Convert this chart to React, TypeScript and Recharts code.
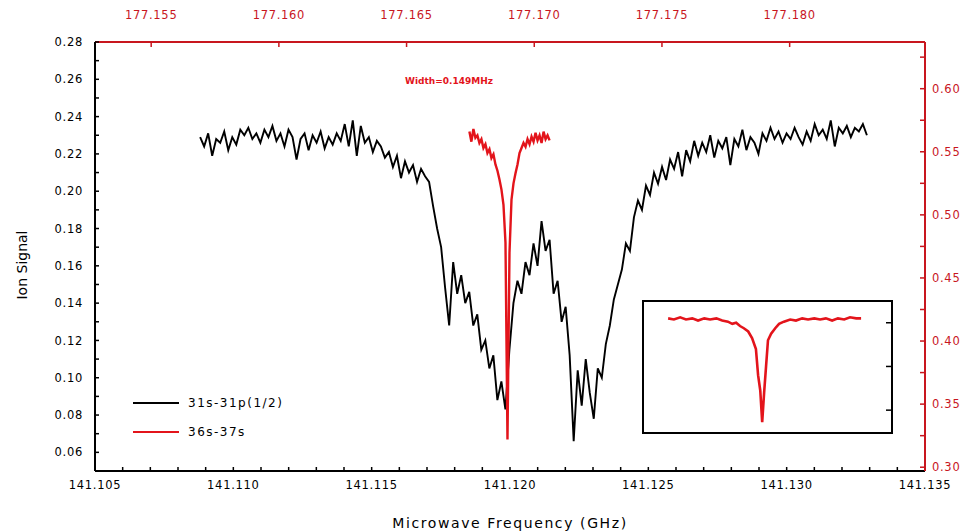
import { LineChart, Line, XAxis, YAxis } from 'recharts'

// 31s-31p(1/2) scan, evenly sampled across the bottom frequency axis (GHz)
const BLACK_START = 141.1088
const BLACK_END = 141.1329
const blackSignal = [
  0.229, 0.224, 0.231, 0.219, 0.228, 0.226, 0.232, 0.222, 0.229, 0.225,
  0.233, 0.230, 0.234, 0.228, 0.231, 0.226, 0.233, 0.229, 0.235, 0.227,
  0.231, 0.224, 0.233, 0.229, 0.217, 0.228, 0.231, 0.222, 0.230, 0.226,
  0.232, 0.223, 0.229, 0.225, 0.231, 0.227, 0.236, 0.224, 0.238, 0.219,
  0.235, 0.226, 0.229, 0.221, 0.227,
  0.224, 0.218, 0.221, 0.213, 0.219, 0.207, 0.216, 0.210, 0.214, 0.205,
  0.212, 0.208,
  0.205, 0.192, 0.180, 0.170, 0.148, 0.128, 0.162, 0.145, 0.155, 0.140,
  0.146, 0.128, 0.134, 0.115, 0.120, 0.105, 0.112, 0.088,
  0.098, 0.083, 0.115,
  0.140, 0.152, 0.145, 0.162, 0.155, 0.172, 0.160, 0.184, 0.168, 0.174,
  0.145, 0.152, 0.130, 0.138, 0.112, 0.066, 0.104, 0.085, 0.110, 0.092,
  0.078, 0.105,
  0.100, 0.118, 0.128, 0.142, 0.150, 0.158, 0.172, 0.168, 0.186, 0.195,
  0.190, 0.203, 0.198, 0.210, 0.204, 0.213, 0.206, 0.217, 0.212, 0.221,
  0.208, 0.222, 0.216, 0.227, 0.219,
  0.226, 0.221, 0.230, 0.218, 0.227, 0.223, 0.229, 0.214, 0.228, 0.224,
  0.233, 0.222, 0.229, 0.226, 0.220, 0.231, 0.227, 0.234, 0.228, 0.232,
  0.226, 0.231, 0.228, 0.234, 0.229, 0.225, 0.232, 0.227, 0.236, 0.230,
  0.233, 0.228, 0.238, 0.224, 0.234, 0.231, 0.235, 0.229, 0.234, 0.232,
  0.236, 0.230
]

// 36s-37s scan, evenly sampled across the top frequency axis (GHz)
const RED_START = 177.16746
const RED_END = 177.1706
const redSignal = [
  0.566, 0.558, 0.568, 0.561, 0.563, 0.557, 0.560, 0.553, 0.556, 0.549,
  0.552, 0.545, 0.548, 0.540, 0.535, 0.528, 0.520, 0.508, 0.478, 0.322,
  0.470, 0.512, 0.525, 0.533, 0.540, 0.549, 0.553, 0.557, 0.554, 0.560,
  0.556, 0.562, 0.558, 0.565, 0.559, 0.563, 0.557, 0.566, 0.560, 0.563,
  0.559
]

// inset: close-up of the 36s-37s line (MHz offset, arb. units)
const insetFreq = [
  -2.0, -1.88, -1.75, -1.63, -1.5, -1.38, -1.25, -1.13, -1.0, -0.88,
  -0.76, -0.67, -0.59, -0.51, -0.43, -0.34, -0.26, -0.18, -0.135, -0.09,
  -0.05, -0.01, 0.03, 0.07, 0.135, 0.22, 0.3, 0.4, 0.53, 0.65,
  0.78, 0.9, 1.03, 1.15, 1.27, 1.4, 1.52, 1.65, 1.77, 1.9, 2.0
]
const insetSignal = [
  1.04, 1.03, 1.05, 1.03, 1.04, 1.02, 1.04, 1.03, 1.04, 1.02,
  1.01, 0.99, 1.0, 0.97, 0.95, 0.92, 0.86, 0.76, 0.52, 0.38,
  0.09, 0.36, 0.6, 0.84, 0.9, 0.95, 0.99, 1.01, 1.03, 1.02,
  1.04, 1.03, 1.04, 1.03, 1.04, 1.02, 1.04, 1.03, 1.05, 1.04, 1.04
]

const bottomTicks = [141.105, 141.11, 141.115, 141.12, 141.125, 141.13, 141.135]
const topTicks = [177.155, 177.16, 177.165, 177.17, 177.175, 177.18]
const leftTicks = [0.06, 0.08, 0.1, 0.12, 0.14, 0.16, 0.18, 0.2, 0.22, 0.24, 0.26, 0.28]
const rightTicks = [0.3, 0.35, 0.4, 0.45, 0.5, 0.55, 0.6]
const insetTicks = [0.2, 0.4, 0.6, 0.8, 1.0]

const seriesNames = ['31s-31p(1/2)', '36s-37s']
const annotation = 'Width=0.149MHz'

const BLACK = '#000000'
const RED = '#e3141b'
const AXIS_RED = '#c8161e'

const steps = (from: number, to: number, step: number) =>
  Array.from({ length: Math.round((to - from) / step) + 1 }, (_, i) => +(from + i * step).toFixed(4))

// minor tick positions; only the major ones get a label
const bottomMinor = steps(141.105, 141.135, 0.001)
const leftMinor = steps(0.06, 0.28, 0.01)
const rightMinor = steps(0.3, 0.625, 0.025)

const labelIf = (majors: number[], digits: number) => (v: number) =>
  majors.some(t => Math.abs(t - v) < 1e-6) ? v.toFixed(digits) : ''

const blackData = blackSignal.map((signal, i) => ({
  freq: BLACK_START + (i * (BLACK_END - BLACK_START)) / (blackSignal.length - 1),
  signal
}))
const redData = redSignal.map((signal, i) => ({
  freq: RED_START + (i * (RED_END - RED_START)) / (redSignal.length - 1),
  signal
}))
const insetData = insetFreq.map((freq, i) => ({ freq, signal: insetSignal[i] }))

const tickFont = { fontSize: 11.5, fontFamily: 'DejaVu Sans', letterSpacing: 0.7 }

const NoLabel = () => <g />

export default function App() {
  return (
    <div style={{ position: 'absolute', left: 0, top: 0, width: 973, height: 532, background: '#fff' }}>
      <LineChart width={973} height={532} margin={{ top: 12, right: 0, bottom: 1, left: 0 }}>
        {/* ticks point into the plot (negative tickSize) */}
        <XAxis
          xAxisId="bottom"
          type="number"
          dataKey="freq"
          domain={[141.105, 141.135]}
          allowDataOverflow
          ticks={bottomMinor}
          interval={0}
          tickFormatter={labelIf(bottomTicks, 3)}
          height={60}
          tickSize={-4}
          tickMargin={14}
          tickLine={{ stroke: BLACK, strokeWidth: 1.5 }}
          axisLine={{ stroke: BLACK, strokeWidth: 2 }}
          tick={{ ...tickFont, fill: BLACK }}
          label={{
            value: 'Microwave Frequency (GHz)',
            position: 'insideBottom',
            offset: 3,
            fill: BLACK,
            fontSize: 14,
            fontFamily: 'DejaVu Sans',
            letterSpacing: 1.6
          }}
        />
        <XAxis
          xAxisId="top"
          orientation="top"
          type="number"
          dataKey="freq"
          domain={[177.1528, 177.1853]}
          allowDataOverflow
          ticks={topTicks}
          interval={0}
          tickFormatter={(v: number) => v.toFixed(3)}
          height={30}
          tickSize={-5}
          tickMargin={28}
          tickLine={{ stroke: AXIS_RED, strokeWidth: 1.5 }}
          axisLine={{ stroke: AXIS_RED, strokeWidth: 2 }}
          tick={{ ...tickFont, fill: AXIS_RED }}
        />
        <YAxis
          yAxisId="left"
          type="number"
          domain={[0.05, 0.28]}
          allowDataOverflow
          ticks={leftMinor}
          interval={0}
          tickFormatter={labelIf(leftTicks, 2)}
          width={95}
          tickSize={-4}
          tickMargin={16}
          tickLine={{ stroke: BLACK, strokeWidth: 1.5 }}
          axisLine={{ stroke: BLACK, strokeWidth: 2 }}
          tick={{ ...tickFont, fill: BLACK }}
        />
        <YAxis
          yAxisId="right"
          orientation="right"
          type="number"
          domain={[0.297, 0.637]}
          allowDataOverflow
          ticks={rightMinor}
          interval={0}
          tickFormatter={labelIf(rightTicks, 2)}
          width={48}
          tickSize={-5}
          tickMargin={12}
          tickLine={{ stroke: AXIS_RED, strokeWidth: 1.5 }}
          axisLine={{ stroke: AXIS_RED, strokeWidth: 2 }}
          tick={{ ...tickFont, fill: AXIS_RED }}
        />

        <Line
          data={blackData}
          xAxisId="bottom"
          yAxisId="left"
          dataKey="signal"
          name={seriesNames[0]}
          type="linear"
          stroke={BLACK}
          strokeWidth={1.9}
          dot={false}
          isAnimationActive={false}
        />
        <Line
          data={redData}
          xAxisId="top"
          yAxisId="right"
          dataKey="signal"
          name={seriesNames[1]}
          type="linear"
          stroke={RED}
          strokeWidth={2.4}
          dot={false}
          isAnimationActive={false}
        />
      </LineChart>

      {/* y axis title */}
      <div
        style={{
          position: 'absolute',
          left: 22,
          top: 265,
          transform: 'translate(-50%, -50%) rotate(-90deg)',
          fontFamily: 'DejaVu Sans',
          fontSize: 14,
          whiteSpace: 'nowrap',
          color: BLACK
        }}
      >
        Ion Signal
      </div>

      {/* annotation */}
      <div
        style={{
          position: 'absolute',
          left: 405,
          top: 76,
          fontFamily: 'DejaVu Sans',
          fontSize: 9,
          fontWeight: 'bold',
          color: RED,
          whiteSpace: 'nowrap'
        }}
      >
        {annotation}
      </div>

      {/* legend */}
      <div style={{ position: 'absolute', left: 133, top: 388, fontFamily: 'DejaVu Sans', fontSize: 12, letterSpacing: 1.5 }}>
        {seriesNames.map((name, i) => (
          <div key={name} style={{ display: 'flex', alignItems: 'center', height: 29 }}>
            <div style={{ width: 46, height: 2, background: i === 0 ? BLACK : RED, marginRight: 9 }} />
            <span>{name}</span>
          </div>
        ))}
      </div>

      {/* inset */}
      <div
        style={{
          position: 'absolute',
          left: 642,
          top: 300,
          width: 251,
          height: 134,
          border: '2px solid #000',
          boxSizing: 'border-box',
          background: '#fff'
        }}
      >
        <LineChart width={247} height={130} data={insetData} margin={{ top: 0, right: 0, bottom: 0, left: 0 }}>
          <XAxis dataKey="freq" type="number" domain={[-2.5, 2.62]} allowDataOverflow hide />
          <YAxis
            orientation="right"
            type="number"
            domain={[0, 1.19]}
            allowDataOverflow
            mirror
            width={1}
            ticks={insetTicks}
            tick={NoLabel}
            axisLine={false}
            tickSize={5}
            tickLine={{ stroke: BLACK, strokeWidth: 1.5 }}
          />
          <Line
            dataKey="signal"
            type="linear"
            stroke={RED}
            strokeWidth={2.6}
            dot={false}
            isAnimationActive={false}
          />
        </LineChart>
      </div>
    </div>
  )
}
